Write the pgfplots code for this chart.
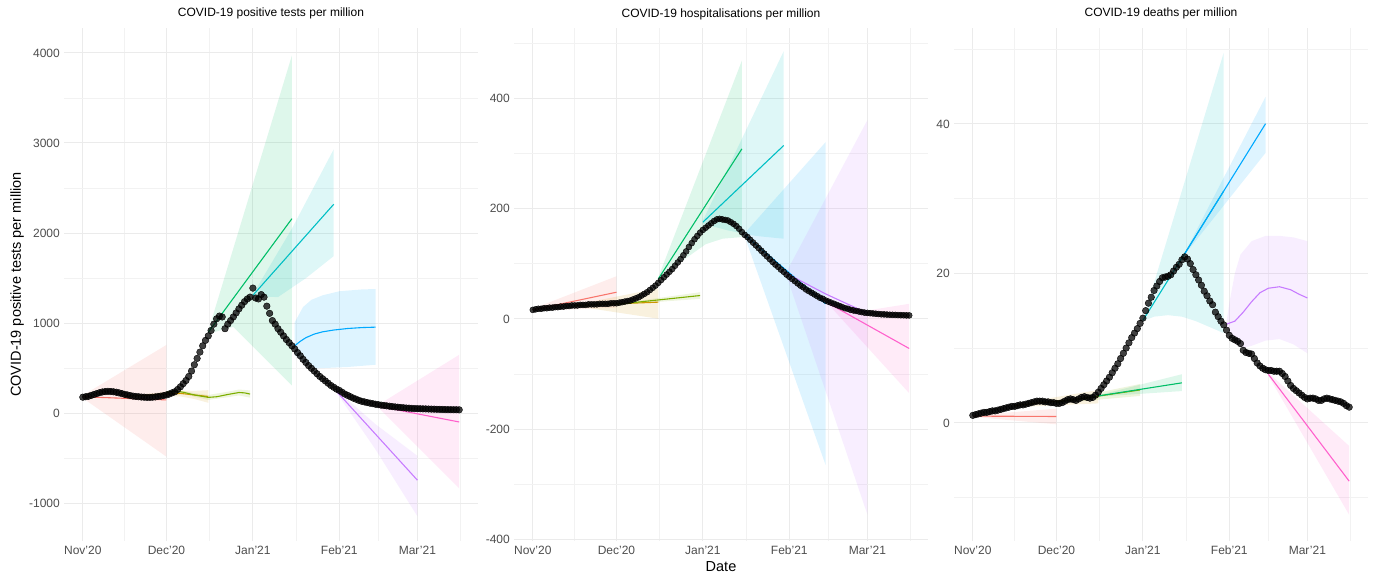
\documentclass[border=0pt]{standalone}
\usepackage{pgfplots}
\pgfplotsset{compat=1.18}
\usepackage{fontspec}
\setmainfont{Liberation Sans}
\definecolor{c1}{HTML}{F8766D}
\definecolor{c2}{HTML}{CD9600}
\definecolor{c3}{HTML}{7CAE00}
\definecolor{c4}{HTML}{00BE67}
\definecolor{c5}{HTML}{00BFC4}
\definecolor{c6}{HTML}{00A9FF}
\definecolor{c7}{HTML}{C77CFF}
\definecolor{c8}{HTML}{FF61CC}
\definecolor{tickgray}{HTML}{4D4D4D}
\definecolor{gridmaj}{HTML}{EBEBEB}
\definecolor{gridmin}{HTML}{F2F2F2}
\pgfplotsset{
  panel/.style={
    scale only axis, width=414pt, height=513pt, anchor=south west,
    xmin=-6.75, xmax=141.75,
    axis line style={draw=none}, tick style={draw=none},
    major tick length=0pt, minor tick length=0pt,
    xtick={0,30,61,92,120}, xticklabels={Nov'20,Dec'20,Jan'21,Feb'21,Mar'21},
    minor xtick={15,45.5,76.5,106,135.5},
    xmajorgrids, ymajorgrids, xminorgrids, yminorgrids,
    major grid style={draw=gridmaj, line width=1pt},
    minor grid style={draw=gridmin, line width=0.7pt},
    tick label style={font=\fontsize{12}{14}\selectfont, text=tickgray},
    xticklabel style={anchor=base, inner sep=0pt, yshift=-13pt},
    yticklabel style={anchor=base east, inner sep=0pt, xshift=-4pt, yshift=-4.3pt},
    title style={at={(axis description cs:0.5,1)}, anchor=base, inner sep=0pt, yshift=5pt, font=\fontsize{12}{14}\selectfont},
    xlabel style={at={(axis description cs:0.5,-0.0507)}, anchor=center, inner sep=0pt, font=\fontsize{14.5}{16}\selectfont},
    ylabel style={at={(axis description cs:-0.1135,0.5)}, anchor=center, inner sep=0pt, font=\fontsize{14.5}{16}\selectfont},
  },
  dots/.style={only marks, mark=*, mark size=3.3pt, mark options={draw=none, fill=black, fill opacity=0.75}},
  band/.style={draw=none, fill=#1, fill opacity=0.13, forget plot},
  fit/.style={draw=#1, line width=1.1pt, no marks},
}
\begin{document}
\begin{tikzpicture}
\path[use as bounding box] (0,0) rectangle (1376pt,579pt);
% ---------------- Panel 1 ----------------
\begin{axis}[panel, at={(64pt,38pt)},
  ymin=-1415, ymax=4275,
  ytick={-1000,0,1000,2000,3000,4000}, yticklabels={-1000,0,1000,2000,3000,4000},
  minor ytick={-500,500,1500,2500,3500},
  title={COVID-19 positive tests per million},
  ylabel={COVID-19 positive tests per million}]
\addplot[dots] coordinates {(0,180)(1,185)(2,190)(3,200)(4,210)(5,220)(6,230)(7,238)(8,242)(9,245)(10,243)(11,240)(12,235)(13,228)(14,220)(15,212)(16,205)(17,198)(18,192)(19,188)(20,185)(21,182)(22,180)(23,178)(24,178)(25,180)(26,183)(27,188)(28,192)(29,198)(30,205)(31,215)(32,228)(33,240)(34,265)(35,295)(36,330)(37,365)(38,410)(39,470)(40,540)(41,610)(42,680)(43,750)(44,810)(45,860)(46,920)(47,990)(48,1050)(49,1080)(50,1070)(51,940)(52,990)(53,1030)(54,1070)(55,1115)(56,1160)(57,1200)(58,1240)(59,1270)(60,1290)(61,1390)(62,1280)(63,1270)(64,1318)(65,1290)(66,1190)(67,1110)(68,1030)(69,990)(70,940)(71,900)(72,860)(73,820)(74,785)(75,750)(76,715)(77,675)(78,640)(79,600)(80,565)(81,530)(82,500)(83,470)(84,440)(85,410)(86,385)(87,360)(88,335)(89,310)(90,290)(91,270)(92,255)(93,235)(94,215)(95,200)(96,185)(97,170)(98,158)(99,145)(100,135)(101,128)(102,120)(103,114)(104,108)(105,102)(106,97)(107,92)(108,88)(109,84)(110,80)(111,76)(112,72)(113,69)(114,66)(115,63)(116,60)(117,58)(118,56)(119,54)(120,53)(121,52)(122,51)(123,50)(124,49)(125,48)(126,47)(127,46)(128,45)(129,44)(130,43)(131,42)(132,42)(133,41)(134,41)(135,40)};
\addplot[band=c1] coordinates {(0,200)(30,760)(30,-480)(0,170)} -- cycle;
\addplot[band=c2] coordinates {(15,200)(22,215)(30,240)(35,255)(40,250)(45,258)(45,118)(40,160)(35,189)(30,190)(22,185)(15,180)} -- cycle;
\addplot[band=c3] coordinates {(30,245)(36,250)(40,225)(45,205)(52,240)(56,265)(60,255)(60,175)(56,200)(52,180)(45,150)(40,185)(36,220)(30,225)} -- cycle;
\addplot[band=c4] coordinates {(45,915)(75,3970)(75,310)(54,960)(45,885)} -- cycle;
\addplot[band=c5] coordinates {(61,1320)(75,2050)(90,2930)(90,1745)(80,1500)(70,1290)(61,1300)} -- cycle;
\addplot[band=c6] coordinates {(76,1010)(79,1180)(82,1260)(86,1310)(92,1355)(100,1375)(105,1380)(105,540)(95,515)(84,500)(80,540)(76,650)} -- cycle;
\addplot[band=c7] coordinates {(91,260)(105,-120)(120,-470)(120,-1140)(105,-400)(91,230)} -- cycle;
\addplot[band=c8] coordinates {(106,95)(135,650)(135,-830)(106,65)} -- cycle;
\addplot[fit=c1] coordinates {(0,185)(30,150)};
\addplot[fit=c2] coordinates {(15,190)(22,200)(30,215)(35,222)(40,205)(45,188)};
\addplot[fit=c3] coordinates {(30,235)(33,250)(36,235)(40,205)(45,178)(48,185)(52,210)(56,232)(58,228)(60,215)};
\addplot[fit=c4] coordinates {(45,900)(75,2160)};
\addplot[fit=c5] coordinates {(61,1310)(90,2320)};
\addplot[fit=c6] coordinates {(76,750)(78,800)(80,840)(83,880)(86,905)(90,925)(95,942)(100,952)(105,957)};
\addplot[fit=c7] coordinates {(91,245)(120,-740)};
\addplot[fit=c8] coordinates {(106,80)(135,-95)};
\end{axis}
% ---------------- Panel 2 ----------------
\begin{axis}[panel, at={(514pt,38pt)},
  ymin=-403, ymax=527,
  ytick={-400,-200,0,200,400}, yticklabels={-400,-200,0,200,400},
  minor ytick={-300,-100,100,300,500},
  title={COVID-19 hospitalisations per million},
  xlabel={Date}]
\addplot[dots, mark size=3pt] coordinates {(0,16)(1,17)(2,18)(3,18)(4,19)(5,19)(6,20)(7,20)(8,21)(9,21)(10,22)(11,22)(12,23)(13,23)(14,24)(15,24)(16,24)(17,25)(18,25)(19,25)(20,26)(21,26)(22,26)(23,26)(24,27)(25,27)(26,27)(27,27)(28,28)(29,28)(30,28)(31,29)(32,30)(33,31)(34,32)(35,33)(36,35)(37,37)(38,39)(39,42)(40,45)(41,48)(42,52)(43,56)(44,60)(45,65)(46,70)(47,75)(48,80)(49,85)(50,90)(51,96)(52,102)(53,108)(54,115)(55,122)(56,130)(57,137)(58,144)(59,150)(60,156)(61,161)(62,165)(63,169)(64,173)(65,177)(66,180)(67,181)(68,180)(69,179)(70,178)(71,175)(72,172)(73,168)(74,163)(75,157)(76,152)(77,148)(78,143)(79,138)(80,133)(81,128)(82,123)(83,118)(84,113)(85,108)(86,103)(87,98)(88,94)(89,89)(90,85)(91,80)(92,76)(93,72)(94,68)(95,64)(96,60)(97,57)(98,53)(99,50)(100,47)(101,44)(102,41)(103,38)(104,36)(105,33)(106,31)(107,29)(108,27)(109,25)(110,23)(111,21)(112,19)(113,18)(114,16)(115,15)(116,14)(117,13)(118,12)(119,11)(120,10.5)(121,10)(122,9.5)(123,9)(124,8.5)(125,8)(126,7.8)(127,7.5)(128,7.2)(129,7)(130,6.8)(131,6.6)(132,6.4)(133,6.2)(134,6)(135,6)};
\addplot[band=c1] coordinates {(0,18)(30,77)(30,20)(0,14)} -- cycle;
\addplot[band=c2] coordinates {(15,25)(45,55)(45,0)(15,23)} -- cycle;
\addplot[band=c3] coordinates {(30,27)(60,48)(60,36)(30,25)} -- cycle;
\addplot[band=c4] coordinates {(45,75)(75,468)(75,148)(68,145)(62,135)(55,110)(45,70)} -- cycle;
\addplot[band=c5] coordinates {(61,178)(90,485)(90,145)(80,150)(70,160)(61,172)} -- cycle;
\addplot[band=c6] coordinates {(76,155)(105,320)(105,-265)(76,149)} -- cycle;
\addplot[band=c7] coordinates {(91,85)(120,360)(120,-355)(91,78)} -- cycle;
\addplot[band=c8] coordinates {(106,30)(120,15)(135,27)(135,-135)(106,26)} -- cycle;
\addplot[fit=c1] coordinates {(0,16)(30,48)};
\addplot[fit=c2] coordinates {(15,24)(45,30)};
\addplot[fit=c3] coordinates {(30,26)(60,42)};
\addplot[fit=c4] coordinates {(45,72)(75,308)};
\addplot[fit=c5] coordinates {(61,175)(90,314)};
\addplot[fit=c6] coordinates {(76,152)(105,27)};
\addplot[fit=c7] coordinates {(91,82)(105,45)(120,10)};
\addplot[fit=c8] coordinates {(106,28)(135,-54)};
\end{axis}
% ---------------- Panel 3 ----------------
\begin{axis}[panel, at={(954pt,38pt)},
  ymin=-15.8, ymax=52.8,
  ytick={0,20,40}, yticklabels={0,20,40},
  minor ytick={-10,10,30,50},
  title={COVID-19 deaths per million}]
\addplot[dots] coordinates {(0,1.0)(1,1.1)(2,1.2)(3,1.3)(4,1.4)(5,1.4)(6,1.5)(7,1.6)(8,1.6)(9,1.7)(10,1.8)(11,1.9)(12,2.0)(13,2.1)(14,2.2)(15,2.2)(16,2.3)(17,2.4)(18,2.4)(19,2.5)(20,2.6)(21,2.7)(22,2.8)(23,2.9)(24,2.9)(25,2.9)(26,2.8)(27,2.8)(28,2.7)(29,2.7)(30,2.6)(31,2.6)(32,2.7)(33,2.9)(34,3.1)(35,3.2)(36,3.1)(37,3.0)(38,3.2)(39,3.4)(40,3.5)(41,3.4)(42,3.3)(43,3.4)(44,3.7)(45,4.1)(46,4.6)(47,5.1)(48,5.6)(49,6.1)(50,6.7)(51,7.3)(52,7.9)(53,8.6)(54,9.3)(55,10.0)(56,10.7)(57,11.4)(58,12.0)(59,12.6)(60,13.3)(61,14.0)(62,15.0)(63,16.0)(64,16.8)(65,17.7)(66,18.3)(67,18.9)(68,19.4)(69,19.5)(70,19.6)(71,19.8)(72,20.3)(73,20.8)(74,21.2)(75,21.8)(76,22.2)(77,21.9)(78,21.3)(79,20.5)(80,19.8)(81,19.1)(82,18.4)(83,17.6)(84,17.0)(85,16.3)(86,15.8)(87,14.8)(88,14.2)(89,13.6)(90,13.1)(91,12.4)(92,11.7)(93,11.3)(94,11.1)(95,10.9)(96,10.6)(97,9.7)(98,9.4)(99,9.3)(100,9.2)(101,8.6)(102,8.0)(103,7.6)(104,7.3)(105,7.1)(106,7.0)(107,7.0)(108,6.9)(109,6.9)(110,6.9)(111,6.6)(112,6.2)(113,5.6)(114,5.0)(115,4.6)(116,4.3)(117,4.0)(118,3.7)(119,3.4)(120,3.2)(121,3.3)(122,3.3)(123,3.2)(124,3.0)(125,3.0)(126,3.2)(127,3.3)(128,3.2)(129,3.1)(130,3.0)(131,2.9)(132,2.8)(133,2.6)(134,2.3)(135,2.1)};
\addplot[band=c1] coordinates {(0,1.0)(30,1.9)(30,-0.2)(0,0.8)} -- cycle;
\addplot[band=c2] coordinates {(15,2.5)(45,4.4)(45,2.6)(15,2.1)} -- cycle;
\addplot[band=c3] coordinates {(30,2.9)(60,5.2)(60,3.6)(30,2.6)} -- cycle;
\addplot[band=c4] coordinates {(45,3.7)(75,6.5)(75,4.25)(45,3.5)} -- cycle;
\addplot[band=c5] coordinates {(61,13.8)(90,49.5)(90,12.0)(85,12.8)(80,13.6)(75,14.2)(70,14.4)(65,14.2)(61,13.6)} -- cycle;
\addplot[band=c6] coordinates {(76,22.7)(105,43.6)(105,36.1)(76,22.5)} -- cycle;
\addplot[band=c7] coordinates {(91,13.5)(92,16)(94,20)(96,22.5)(100,24.3)(105,25)(110,25)(115,24.8)(120,24.3)(120,9.3)(115,10.5)(110,11.2)(105,11.0)(100,10.3)(97,10)(94,10.6)(91,13)} -- cycle;
\addplot[band=c8] coordinates {(106,6.7)(135,-3.1)(135,-12.3)(106,6.3)} -- cycle;
\addplot[fit=c1] coordinates {(0,0.9)(30,0.85)};
\addplot[fit=c2] coordinates {(15,2.3)(45,3.5)};
\addplot[fit=c3] coordinates {(30,2.75)(60,4.4)};
\addplot[fit=c4] coordinates {(45,3.6)(75,5.35)};
\addplot[fit=c5] coordinates {(61,13.7)(90,31.0)};
\addplot[fit=c6] coordinates {(76,22.6)(105,40)};
\addplot[fit=c7] coordinates {(91,13.2)(94,13.6)(97,14.8)(100,16.2)(103,17.4)(106,18)(110,18.2)(114,17.8)(117,17.2)(120,16.7)};
\addplot[fit=c8] coordinates {(106,6.5)(135,-7.8)};
\end{axis}
\end{tikzpicture}
\end{document}
